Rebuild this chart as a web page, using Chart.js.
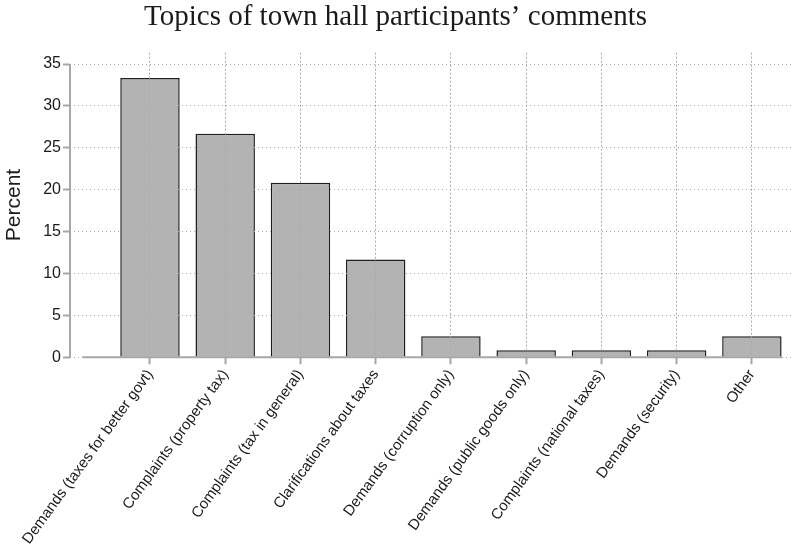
<!DOCTYPE html>
<html>
<head>
<meta charset="utf-8">
<script src="https://cdn.jsdelivr.net/npm/chart.js@4"></script>
<style>
  html, body { margin:0; padding:0; background:#ffffff; }
  #wrap { width:793px; height:554px; }
</style>
</head>
<body>
<div id="wrap"><canvas id="c" width="793" height="554"></canvas></div>
<script>
const chartTitle = 'Topics of town hall participants\u2019 comments';
const categories = [
  'Demands (taxes for better govt)',
  'Complaints (property tax)',
  'Complaints (tax in general)',
  'Clarifications about taxes',
  'Demands (corruption only)',
  'Demands (public goods only)',
  'Complaints (national taxes)',
  'Demands (security)',
  'Other'
];
const percents = [33.33, 26.67, 20.83, 11.67, 2.5, 0.83, 0.83, 0.83, 2.5];
const yTicks = [0, 5, 10, 15, 20, 25, 30, 35];
const yAxisTitle = 'Percent';

const axisLines = {
  id: 'axisLines',
  afterDraw(chart) {
    const { ctx, scales: { x, y }, chartArea } = chart;
    ctx.save();
    ctx.strokeStyle = '#a6a6a6';
    ctx.lineWidth = 2;
    ctx.setLineDash([]);
    ctx.beginPath();
    ctx.moveTo(chartArea.left, y.getPixelForValue(yTicks[0]));
    ctx.lineTo(chartArea.left, y.getPixelForValue(yTicks[yTicks.length - 1]));
    ctx.stroke();
    ctx.beginPath();
    ctx.moveTo(x.getPixelForValue(-0.9), y.getPixelForValue(0));
    ctx.lineTo(x.getPixelForValue(categories.length - 0.6), y.getPixelForValue(0));
    ctx.stroke();
    ctx.restore();
  }
};

new Chart(document.getElementById('c'), {
  type: 'bar',
  data: {
    datasets: [{
      data: percents.map((v, i) => ({ x: i, y: v })),
      backgroundColor: '#b3b3b3',
      borderColor: '#1e1e1e',
      borderWidth: 1.5,
      barPercentage: 0.79,
      categoryPercentage: 1
    }]
  },
  options: {
    responsive: false,
    animation: false,
    devicePixelRatio: 1,
    layout: { padding: { left: 0, right: 2, top: 0, bottom: 0 } },
    plugins: {
      legend: { display: false },
      tooltip: { enabled: false },
      title: {
        display: true,
        text: chartTitle,
        font: { family: 'Liberation Serif', size: 29, weight: 'normal' },
        color: '#1a1a1a',
        padding: { top: 0, bottom: 17.9 }
      }
    },
    scales: {
      x: {
        type: 'linear',
        offset: false,
        min: -1.063,
        max: 8.52,
        afterBuildTicks: s => { s.ticks = categories.map((_, i) => ({ value: i })); },
        afterFit: s => { s.height = 196.7; },
        ticks: {
          autoSkip: false,
          minRotation: 54,
          maxRotation: 54,
          padding: 2,
          font: { family: 'Liberation Sans', size: 15 },
          color: '#1a1a1a',
          callback: v => categories[v]
        },
        grid: { offset: false, color: '#aaaaaa', lineWidth: 1, z: 1, tickLength: 7, tickColor: '#a6a6a6', tickWidth: 2, tickBorderDash: [] },
        border: { display: false, dash: [2, 2] }
      },
      y: {
        min: 0,
        max: 36.35,
        afterBuildTicks: s => { s.ticks = yTicks.map(v => ({ value: v })); },
        afterFit: s => { s.width = 70; },
        ticks: {
          padding: 2,
          font: { family: 'Liberation Sans', size: 16 },
          color: '#1a1a1a'
        },
        grid: { color: '#aaaaaa', lineWidth: 1, z: 1, tickLength: 7, tickColor: '#a6a6a6', tickWidth: 2, tickBorderDash: [] },
        border: { display: false, dash: [1, 3] },
        title: {
          display: true,
          text: yAxisTitle,
          font: { family: 'Liberation Sans', size: 21 },
          color: '#1a1a1a',
          padding: { top: 2, bottom: 0 }
        }
      }
    }
  },
  plugins: [axisLines]
});
</script>
</body>
</html>
